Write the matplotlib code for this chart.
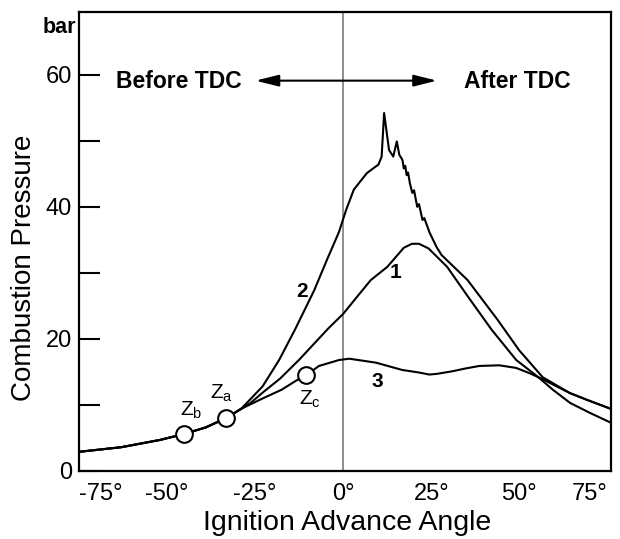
import matplotlib.pyplot as plt
from matplotlib.ticker import FixedLocator, NullFormatter

plt.rcParams['font.family'] = ['Liberation Sans', 'DejaVu Sans']
plt.rcParams['mathtext.default'] = 'regular'

# shared early part of all three pressure curves
base_x = [-75, -63, -52, -45.2, -39, -33.3, -29]
base_y = [2.9, 3.6, 4.7, 5.6, 6.6, 8.0, 9.4]

# curve 2: knocking (with pressure oscillations)
curve2_x = [-26.3, -22.9, -18.2, -13.7, -8.2, -4.6, -1.2, 0.8, 3.0, 6.7, 10.0, 10.9,
            11.6, 13.0, 14.2, 15.2, 15.9, 16.8, 17.2, 17.6, 18.0, 18.4, 18.9, 19.6,
            20.1, 21.0, 21.5, 22.5, 23.0, 24.5, 26.5, 27.9, 35.3, 43.8, 49.9, 56.6,
            64.3, 70, 76]
curve2_y = [10.9, 12.8, 16.8, 21.4, 27.4, 32.0, 36.2, 39.5, 42.6, 45.1, 46.4, 47.6,
            54.2, 48.6, 47.6, 49.9, 47.9, 47.1, 45.8, 46.2, 44.8, 45.2, 43.6, 42.1,
            42.5, 40.0, 40.4, 38.0, 38.3, 36.1, 33.9, 32.7, 28.9, 22.9, 18.3, 14.2,
            11.8, 10.6, 9.4]

# curve 1: normal combustion
curve1_x = [-26.3, -22.8, -17.9, -12.4, -8.4, -4.2, 0, 3.2, 7.8, 12.5, 17.2, 19.5,
            21.5, 24.2, 29.5, 35.4, 42.1, 49.1, 54.9, 59.5, 64.4, 70, 76]
curve1_y = [10.3, 11.9, 14.0, 16.9, 19.2, 21.6, 23.8, 25.9, 28.9, 30.9, 33.8, 34.4,
            34.4, 33.7, 30.9, 26.4, 21.4, 16.8, 14.4, 12.3, 10.3, 8.8, 7.3]

# curve 3: late ignition
curve3_x = [-26.3, -22.8, -17.5, -13.3, -10.5, -6.9, -1.2, 1.7, 9.3, 16.7, 21.6, 24.4,
            26.5, 31, 34.5, 38.6, 44.3, 49.1, 52.9, 55.8, 64.3, 70, 76]
curve3_y = [10.1, 11.0, 12.3, 13.7, 14.5, 15.9, 16.8, 17.0, 16.4, 15.3, 14.9, 14.6,
            14.7, 15.1, 15.5, 15.9, 16.0, 15.6, 14.8, 14.1, 11.8, 10.6, 9.4]

# ignition points
z_names = ['b', 'a', 'c']
z_x = [-45.2, -33.3, -10.5]
z_y = [5.6, 8.0, 14.5]

x_ticks = [-75, -50, -25, 0, 25, 50, 75]
x_labels = ['-75°', '-50°', '-25°', '0°', '25°', '50°', '75°']

fig = plt.figure(figsize=(6.2, 5.39), dpi=100)
ax = fig.add_axes([0.1274, 0.1262, 0.8581, 0.8516])

ax.axvline(0, color='#7a7a7a', lw=1.2, zorder=1)

for cx, cy in [(curve1_x, curve1_y), (curve2_x, curve2_y), (curve3_x, curve3_y)]:
    ax.plot(base_x + cx, base_y + cy, color='black', lw=1.5, zorder=2)

ax.plot(z_x, z_y, 'o', ms=12, mfc='white', mec='black', mew=1.5, zorder=3)

ax.set_xlim(-75, 76)
ax.set_ylim(0, 69.5)

# x axis: labels without marks, short inward marks at +-25, +-50
ax.set_xticks(x_ticks)
ax.set_xticklabels(x_labels)
ax.xaxis.set_minor_locator(FixedLocator([-50, -25, 25, 50]))
ax.tick_params(axis='x', which='major', length=0, pad=9, labelsize=17)
ax.tick_params(axis='x', which='minor', direction='in', length=10, width=1.5)
xl = ax.get_xticklabels()
xl[0].set_ha('left')
xl[-1].set_ha('right')

ax.set_yticks([0, 20, 40, 60])
ax.yaxis.set_minor_locator(FixedLocator([10, 30, 50]))
ax.yaxis.set_minor_formatter(NullFormatter())
ax.tick_params(axis='y', which='both', direction='in', length=15, width=1.5,
               pad=5, labelsize=17)

for s in ax.spines.values():
    s.set_linewidth(1.6)

ax.set_xlabel('Ignition Advance Angle', fontsize=20.5)
ax.xaxis.set_label_coords(0.504, -0.085)
ax.set_ylabel('Combustion Pressure', fontsize=20)
ax.yaxis.set_label_coords(-0.078, 0.442)

ax.text(-75.8, 67.1, 'bar', ha='right', va='center', fontsize=15.5, fontweight='bold')
ax.text(-64.5, 58.9, 'Before TDC', ha='left', va='center', fontsize=16.5, fontweight='bold')
ax.text(34.2, 58.9, 'After TDC', ha='left', va='center', fontsize=16.5, fontweight='bold')
ax.annotate('', xy=(-24.9, 59.1), xytext=(26.6, 59.1),
            arrowprops=dict(arrowstyle='<|-|>,head_length=1.4,head_width=0.35',
                            color='black', lw=1.5, shrinkA=0, shrinkB=0))

ax.text(-11.8, 27.2, '2', ha='center', va='center', fontsize=15, fontweight='bold')
ax.text(14.7, 30.0, '1', ha='center', va='center', fontsize=15, fontweight='bold')
ax.text(9.6, 13.6, '3', ha='center', va='center', fontsize=15, fontweight='bold')

z_label_pos = [(-43.2, 9.2), (-34.5, 11.8), (-9.4, 10.8)]
for name, (lx, ly) in zip(z_names, z_label_pos):
    ax.text(lx, ly, 'Z$_{' + name + '}$', ha='center', va='center', fontsize=15)

fig.savefig('out.png', dpi=100)
